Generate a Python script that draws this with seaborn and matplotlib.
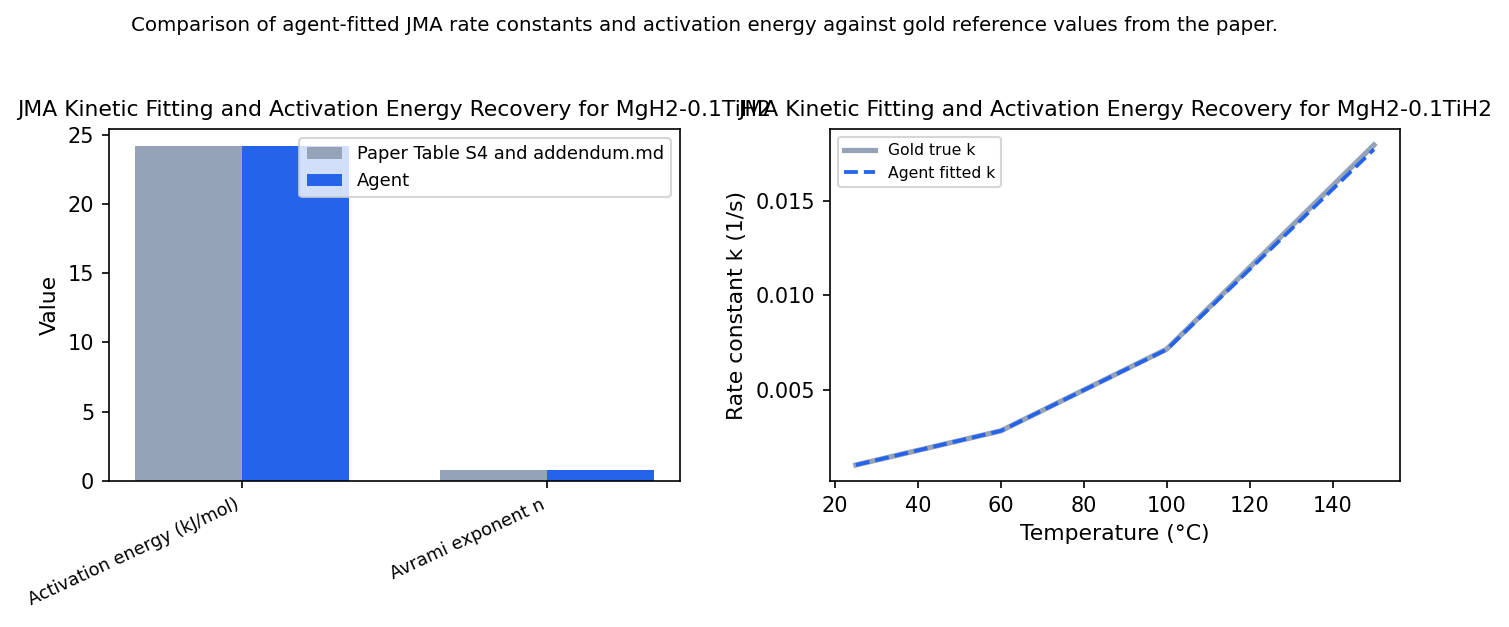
import matplotlib
matplotlib.use("Agg")
import matplotlib.pyplot as plt
from matplotlib.ticker import MultipleLocator
import pandas as pd
import seaborn as sns

# bar panel data
params = ["Activation energy (kJ/mol)", "Avrami exponent n"]
paper_vals = [24.2, 0.77]
agent_vals = [24.2, 0.77]
sources = ["Paper Table S4 and addendum.md", "Agent"]

# rate constant panel data
temps = [25, 60, 100, 150]
k_gold = [0.00100, 0.00281, 0.00714, 0.01796]
k_agent = [0.00100, 0.00281, 0.00712, 0.01773]

GRAY = "#94a3b8"
BLUE = "#2563eb"
TITLE = "JMA Kinetic Fitting and Activation Energy Recovery for MgH2-0.1TiH2"

bars = pd.DataFrame({
    "param": params * 2,
    "value": paper_vals + agent_vals,
    "source": [sources[0]] * len(params) + [sources[1]] * len(params),
})

fig = plt.figure(figsize=(1509 / 150, 627 / 150), dpi=150)
ax1 = fig.add_axes([0.0722, 0.2329, 0.3784, 0.5614])
ax2 = fig.add_axes([0.5500, 0.2329, 0.3777, 0.5614])

sns.barplot(data=bars, x="param", y="value", hue="source",
            palette=[GRAY, BLUE], saturation=1, width=0.7, ax=ax1)
ax1.set_xlim(-0.435, 1.435)
ax1.set_xlabel("")
ax1.set_ylabel("Value", fontsize=10.5)
ax1.set_title(TITLE, fontsize=10.5)
plt.setp(ax1.get_xticklabels(), rotation=25, ha="right", fontsize=8.5)
ax1.legend(loc="upper right", fontsize=8.6)

sns.lineplot(x=temps, y=k_gold, color=GRAY, lw=2.5, label="Gold true k", ax=ax2)
sns.lineplot(x=temps, y=k_agent, color=BLUE, lw=1.8, ls="--",
             label="Agent fitted k", ax=ax2)
ax2.yaxis.set_major_locator(MultipleLocator(0.005))
ax2.set_xlabel("Temperature (°C)", fontsize=10.5)
ax2.set_ylabel("Rate constant k (1/s)", fontsize=10.5)
ax2.set_title(TITLE, fontsize=10.5)
ax2.legend(loc="upper left", fontsize=7.5)

fig.text(0.4666, 0.96, "Comparison of agent-fitted JMA rate constants and activation energy "
         "against gold reference values from the paper.", ha="center", va="center", fontsize=9.55)

fig.savefig("out.png", dpi=150)
